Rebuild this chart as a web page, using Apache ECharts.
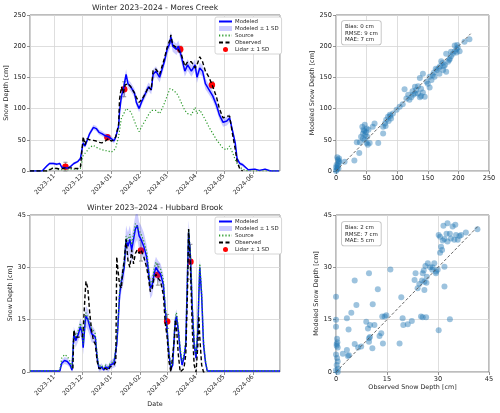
<!DOCTYPE html>
<html>
<head>
<meta charset="utf-8">
<title>Snow depth</title>
<script src="https://cdn.jsdelivr.net/npm/echarts@6/dist/echarts.min.js"></script>
</head>
<body style="margin:0">
<div id="main" style="width:500px;height:413px;"></div>
<script>
// ---- Mores Creek time series ----
var moresDates = ['2023-10-06','2023-10-19','2023-10-24','2023-10-27','2023-10-31',
  '2023-11-04','2023-11-07','2023-11-09','2023-11-13','2023-11-16','2023-11-19','2023-11-22','2023-11-26','2023-11-29','2023-11-30',
  '2023-12-02','2023-12-04','2023-12-06','2023-12-09','2023-12-13','2023-12-16','2023-12-19','2023-12-22','2023-12-25','2023-12-29',
  '2024-01-01','2024-01-04','2024-01-06','2024-01-09','2024-01-10','2024-01-12','2024-01-14','2024-01-16','2024-01-17','2024-01-19','2024-01-22','2024-01-26','2024-01-28','2024-01-31',
  '2024-02-03','2024-02-07','2024-02-10','2024-02-13','2024-02-15','2024-02-18','2024-02-22','2024-02-24','2024-02-27',
  '2024-03-01','2024-03-04','2024-03-05','2024-03-07','2024-03-11','2024-03-13','2024-03-16','2024-03-20','2024-03-23','2024-03-27','2024-03-31',
  '2024-04-02','2024-04-05','2024-04-08','2024-04-11','2024-04-15','2024-04-19','2024-04-23','2024-04-26','2024-04-30',
  '2024-05-04','2024-05-07','2024-05-10','2024-05-13','2024-05-15','2024-05-18','2024-05-21','2024-05-24','2024-05-27',
  '2024-06-03','2024-06-08','2024-06-14','2024-06-20','2024-06-29'];
var moresModeled = [0,0,8,12,12,
  11,12,6,5,5,8,12,15,20,22,
  45,40,48,60,70,68,62,60,57,55,
  52,48,55,72,95,120,130,128,155,140,135,125,110,100,
  112,125,135,130,155,160,150,160,175,
  195,205,215,200,195,200,185,160,170,160,170,
  150,165,160,140,130,120,105,90,78,
  80,85,65,45,20,12,10,6,2,
  3,1,3,0,0];
var moresObserved = [0,0,0,2,5,
  4,3,3,5,5,5,4,4,5,5,
  55,42,52,50,49,48,46,45,47,52,
  48,50,55,75,115,135,125,138,140,140,135,125,118,110,
  115,125,135,130,162,163,155,165,180,
  198,210,218,202,198,195,188,168,175,175,165,
  170,183,175,160,150,135,118,100,85,
  88,88,60,35,15,3,0,null,null,
  null,null,null,null,null];
var moresSource = [0,0,0,3,5,
  3,2,1,2,2,3,3,3,4,5,
  25,28,32,38,41,38,36,34,33,32,
  30,33,38,55,65,85,90,92,100,103,95,80,72,63,
  72,82,90,97,100,97,92,98,108,
  120,132,135,130,125,120,110,97,92,90,102,
  92,98,90,82,70,60,50,44,36,
  34,40,30,18,12,6,3,1,0,
  0,0,0,0,0];
var moresSd = [0,0,2,2,2,
  2,2,2,2,2,2,2,2,2,2,
  3,3,3,4,4,4,4,4,4,4,
  4,4,4,5,6,7,7,7,8,7,7,7,6,6,
  6,7,7,7,8,8,8,8,8,
  9,9,9,9,9,9,9,9,9,9,9,
  9,9,9,9,8,8,8,7,7,
  7,7,6,5,4,3,3,2,1,
  1,1,1,0,0];
var moresLidarDates = ['2023-11-13','2023-12-28','2024-01-15','2024-03-15','2024-04-18'];
var moresLidar = [7, 54, 131, 195, 138];
var moresLidarSd = [7, 3, 12, 5, 5];

// ---- Hubbard Brook time series ----
var hubbardDates = ['2023-10-06','2023-10-31','2023-11-07','2023-11-09','2023-11-12','2023-11-15','2023-11-18','2023-11-20','2023-11-21',
  '2023-11-22','2023-11-24','2023-11-27','2023-11-29','2023-12-01','2023-12-02','2023-12-04','2023-12-05','2023-12-07','2023-12-09',
  '2023-12-11','2023-12-13','2023-12-15','2023-12-17','2023-12-19','2023-12-22','2023-12-24','2023-12-26','2023-12-29','2023-12-31',
  '2024-01-04','2024-01-06','2024-01-07','2024-01-08','2024-01-10','2024-01-12','2024-01-13','2024-01-15','2024-01-17','2024-01-19',
  '2024-01-21','2024-01-23','2024-01-25','2024-01-27','2024-01-29','2024-01-31','2024-02-02','2024-02-05','2024-02-08','2024-02-10',
  '2024-02-12','2024-02-14','2024-02-16','2024-02-18','2024-02-20','2024-02-23','2024-02-26','2024-02-28','2024-03-01','2024-03-03',
  '2024-03-05','2024-03-07','2024-03-09','2024-03-10','2024-03-11','2024-03-13','2024-03-15','2024-03-17','2024-03-19','2024-03-21',
  '2024-03-23','2024-03-24','2024-03-26','2024-03-28','2024-03-30','2024-04-01','2024-04-03','2024-04-04','2024-04-05','2024-04-07',
  '2024-04-09','2024-04-11','2024-04-13','2024-06-30'];
var hubbardModeled = [0.3,0.3,0.3,2.5,3.3,3,2,0.5,0.3,
  11,9,11,13,11,7,14,16,15,13,
  11,10.5,10,4,1,1.5,0.5,1.5,1,2,
  2.5,3,8,12,22,26,27,30,38,36,
  38,35,38,41,42,39,38,36,33,29,
  24,25,28,30,29,28,25,18,12,5,
  1,2,12,15,16,12,6,2,4,8,
  30,40,33,18,8,4,12,22,30,22,
  8,3,0.3,0.3];
var hubbardObserved = [null,null,null,null,null,null,null,null,1,
  12,10,10,10,10,12,22,26,24,17,
  12,9,8,3,1,1,0.5,1,0.5,1.5,
  2,3,33,30,25,24,28,32,38,32,
  30,35,31,34,35,34,35,33,30,27,
  23,24,27,28,27,26,22,14,10,3,
  0,0,10,15,13,5,0,0,1,5,
  25,41,30,12,2,0,8,16,10,2,
  0,0,null,null];
var hubbardSource = [0.3,0.3,0.5,4,5,4.5,3,1,0.5,
  12,10,12,14,12,8,15,17,16.5,14,
  12.5,12,11,5,1.5,2,1,2,1.5,2.5,
  3,3.5,9,13,23,27,28,31,39,37.5,
  39.5,36.5,39.5,42.5,43,40.5,39.5,37.5,34.5,30,
  25,26,29.5,31.5,30.5,29.5,26.5,19,13,6,
  1.5,2.5,13,16,17,13,7,3,5,9,
  31,41,34,19,9,5,13,23,31,23,
  9,3.5,0.3,0.3];
var hubbardSd = [0.2,0.2,0.2,0.8,1,1,0.8,0.3,0.2,
  2,2,2,2.5,2.5,2,3,3,3,2.5,
  2.5,2.5,2,1.5,1,1,0.8,1,1,1.2,
  1.5,1.5,2,2.5,3,3,3,3.5,4,4,
  4,4,4,4,4,4,4,4,3.5,3.5,
  3,3,3,3,3,3,3,2.5,2,1.5,
  1,1,2,2,2,2,1.5,1,1,1.5,
  3,3.5,3.5,2.5,2,1.5,2,2.5,3,2.5,
  2,1,0.2,0.2];
var hubbardLidarDates = ['2024-02-02','2024-02-20','2024-03-01','2024-03-26'];
var hubbardLidar = [34.8, 27.9, 14.5, 31.6];
var hubbardLidarSd = [3, 3, 2, 5];

// ---- scatter: [observed, modeled] ----
var moresPairs = [[0,0],[1,2],[2,5],[3,8],[1,10],[4,12],[5,14],[5,16],[3,18],[5,20],[2,22],[0,6],[4,4],
  [14,15],[30,17],[38,29],[39,46],[34,46],
  [43,71],[47,74],[50,68],[44,60],[41,55],[47,50],[50,45],[52,42],[55,45],[60,71],[63,76],[53,66],[45,66],[48,58],[46,64],[49,62],[51,55],[44,52],
  [69,45],[77,60],
  [80,76],[82,82],[85,87],[88,90],[90,84],[93,92],[99,98],[81,72],[77,71],[86,80],[89,88],
  [104,103],[109,107],[112,131],[118,122],[120,114],[123,118],[126,122],[129,124],[131,130],[134,124],[137,118],[139,120],[142,126],[145,119],[139,132],[134,136],[129,135],
  [153,134],[150,140],[148,143],[156,146],[158,154],[161,151],[153,151],[142,156],[137,149],[165,162],[168,165],[170,168],[174,173],[178,170],[175,162],[169,156],[180,159],
  [183,175],[186,180],[188,184],[191,188],[194,192],[197,195],[199,198],[202,192],[197,190],[188,191],[194,201],[198,202],[210,207],[218,211],[180,188],
  [115,116],[125,128],[160,158],[163,164],[172,176],[176,168],[185,178]];
var hubbardPairs = [[0,21.6],[0,15],[0,13],[0.3,9.5],[0.2,8],[0.5,7],[0,5],[0.3,4],[0.5,3],[0.2,2],[0.6,1],[0,0.5],[0.5,0],[0.2,7.5],[0.4,8.5],
  [2,5.2],[3.2,6.3],[3.5,4.6],[3.8,4.8],[5.5,8],[5.5,26.2],[6,19.2],[4.5,17],[3.2,15.4],[3.7,12.2],[6.5,7],[7.4,7.3],[8.9,14.4],[9.7,28.3],[9.4,12.5],
  [10,13.5],[10,10],[9.7,9.7],[9.7,8.7],[10.7,6.8],[10.8,19.4],[11.3,13.5],[12.3,23.7],[12.8,10.3],[13.6,15.9],[14.3,15.9],[14.8,16.3],[13.8,8.2],[13.3,11.1],
  [16,29.4],[18.7,8.2],[19.2,21.4],[19.6,15.4],[19.8,13.5],[21.1,13.7],[22.3,14.6],[23.1,26.4],[23.4,28.3],[24,24],[24.5,25.2],[25,15.9],[25.5,15.7],[26.5,15.7],
  [25.3,26.2],[26,25.9],[25.5,28.3],[25.8,29.1],[26.3,30.4],[27,31.2],[27.7,30],[28.3,29.3],[28.4,30],[28.9,31.2],[29.4,28.8],[29.9,29.3],[30.2,12],[31.9,24.5],
  [31.9,30.2],[30.6,34.2],[31.2,35],[30.9,35.9],[30.6,38.8],[30.2,39.3],[31.4,37.7],[31.9,38.1],[32.5,39.6],[32.8,37.4],[33.5,39.6],[33.8,38.3],[33.5,15.1],
  [31.6,41.9],[32.8,42.6],[34.3,41.7],[35.1,42.2],[35.3,39.3],[36.3,39],[36.8,39.3],[35.8,37.9],[34.8,37.9],[38.2,40],[41.6,40.9],[29.4,28.3],[26.7,27.3],[26,23.5],[26.6,25.6]];
var moresOneToOne = [[0,0],[220,220]];
var hubbardOneToOne = [[0,0],[42,42]];
var moresStats = ['Bias: 0 cm','RMSE: 9 cm','MAE: 7 cm'];
var hubbardStats = ['Bias: 2 cm','RMSE: 7 cm','MAE: 5 cm'];

var FONT = 'DejaVu Sans';
var TXT = '#262626';
var GRIDC = '#d6d6d6';
var FRAME = '#7a7a7a';
var BAND = 'rgba(40,40,255,0.24)';

var myChart = echarts.init(document.getElementById('main'));

function zip(dates, vals) {
  return dates.map(function (d, i) { return [d, vals[i]]; });
}
function monthFmt(v) {
  var d = new Date(v);
  return d.getFullYear() + '-' + ('0' + (d.getMonth() + 1)).slice(-2);
}
function timeAxis(g, name) {
  return {
    type: 'time', gridIndex: g,
    min: +new Date(2023, 9, 6), max: +new Date(2024, 5, 30),
    splitNumber: 9,
    name: name || '', nameLocation: 'middle', nameGap: 29,
    nameTextStyle: { fontFamily: FONT, fontSize: 6.4, color: TXT },
    axisLine: { show: false },
    axisTick: { show: true, length: 3, lineStyle: { color: FRAME, width: 0.8 } },
    axisLabel: { rotate: 45, fontSize: 6.3, fontFamily: FONT, color: TXT, margin: 4, formatter: monthFmt, hideOverlap: false },
    splitLine: { show: true, lineStyle: { color: GRIDC, width: 0.8 } }
  };
}
function valAxis(g, max, interval, name, gap) {
  return {
    type: 'value', gridIndex: g, min: 0, max: max, interval: interval,
    name: name || '', nameLocation: 'middle', nameGap: gap,
    nameTextStyle: { fontFamily: FONT, fontSize: 6.4, color: TXT },
    axisLine: { show: false },
    axisTick: { show: true, length: 3, lineStyle: { color: FRAME, width: 0.8 } },
    axisLabel: { fontSize: 6.6, fontFamily: FONT, color: TXT, margin: 4 },
    splitLine: { show: true, lineStyle: { color: GRIDC, width: 0.8 } }
  };
}

function siteSeries(ax, key, dates, modeled, observed, source, sd, lDates, lidar, lSd) {
  var lower = modeled.map(function (m, i) { return Math.max(0, m - sd[i]); });
  var width = modeled.map(function (m, i) { return m + sd[i] - lower[i]; });
  var base = { xAxisIndex: ax, yAxisIndex: ax, symbol: 'none', animation: false };
  function s(o) { return Object.assign({}, base, o); }
  return [
    s({ type: 'line', name: 'sdLow' + key, stack: 'sd' + key, data: zip(dates, lower),
        lineStyle: { opacity: 0 } }),
    s({ type: 'line', name: 'Modeled ± 1 SD', stack: 'sd' + key, data: zip(dates, width),
        color: BAND, lineStyle: { opacity: 0 }, areaStyle: { color: BAND, opacity: 1 } }),
    s({ type: 'line', name: 'Modeled', data: zip(dates, modeled), color: '#0000ff',
        lineStyle: { color: '#0000ff', width: 1.5 } }),
    s({ type: 'line', name: 'Source', data: zip(dates, source), color: '#2a9a2a',
        lineStyle: { color: '#2a9a2a', width: 1.2, type: [1.2, 2] } }),
    s({ type: 'line', name: 'Observed', data: zip(dates, observed), color: '#000',
        lineStyle: { color: '#000', width: 1.4, type: [4, 2.5] } }),
    {
      type: 'custom', xAxisIndex: ax, yAxisIndex: ax, animation: false,
      data: lDates.map(function (d, i) { return [d, lidar[i], lSd[i]]; }),
      encode: { x: 0, y: 1 },
      renderItem: function (params, api) {
        var x = api.value(0), v = api.value(1), e = api.value(2);
        var lo = api.coord([x, v - e]), hi = api.coord([x, v + e]);
        var st = { stroke: '#8c8c8c', lineWidth: 1 };
        return { type: 'group', children: [
          { type: 'line', shape: { x1: lo[0], y1: lo[1], x2: hi[0], y2: hi[1] }, style: st },
          { type: 'line', shape: { x1: lo[0] - 2, y1: lo[1], x2: lo[0] + 2, y2: lo[1] }, style: st },
          { type: 'line', shape: { x1: hi[0] - 2, y1: hi[1], x2: hi[0] + 2, y2: hi[1] }, style: st }
        ] };
      }
    },
    { type: 'scatter', name: 'Lidar ± 1 SD', xAxisIndex: ax, yAxisIndex: ax, animation: false,
      symbolSize: 6.5, color: '#ff0000', itemStyle: { color: '#ff0000', opacity: 1 },
      data: zip(lDates, lidar) }
  ];
}

function scatterSeries(ax, pairs, line) {
  return [
    { type: 'scatter', xAxisIndex: ax, yAxisIndex: ax, animation: false, symbolSize: 6,
      itemStyle: { color: 'rgba(31,119,180,0.55)' }, data: pairs },
    { type: 'line', xAxisIndex: ax, yAxisIndex: ax, animation: false, symbol: 'none', data: line,
      lineStyle: { color: '#555', width: 0.9, type: [3, 2] } }
  ];
}

// line entries: hide the marker that ECharts puts in the middle of a line legend icon
var noMarker = { opacity: 0 };
var legendItems = [
  { name: 'Modeled', itemStyle: noMarker },
  { name: 'Modeled ± 1 SD', icon: 'rect', itemStyle: { color: BAND } },
  { name: 'Source', itemStyle: noMarker },
  { name: 'Observed', itemStyle: noMarker },
  { name: 'Lidar ± 1 SD', icon: 'circle', itemStyle: { color: '#ff0000' } }
];
function legendAt(top) {
  return {
    orient: 'vertical', left: 215, top: top, data: legendItems, selectedMode: false,
    itemWidth: 13, itemHeight: 5, itemGap: 2, padding: [2, 3, 2, 3],
    textStyle: { fontSize: 5.4, fontFamily: FONT, color: TXT, padding: [0, 0, 0, -2] },
    backgroundColor: '#fff', borderColor: '#cccccc', borderWidth: 0.8, borderRadius: 2
  };
}
function titleText(x, y, text) {
  return { type: 'text', x: x, y: y, silent: true,
    style: { text: text, textAlign: 'center', textVerticalAlign: 'middle', fontSize: 7.7, fontFamily: FONT, fill: TXT } };
}
function statsBox(x, y, lines) {
  return { type: 'text', x: x, y: y, silent: true, z: 10,
    style: { text: lines.join('\n'), fontSize: 5.5, fontFamily: FONT, fill: TXT, lineHeight: 6.8,
      backgroundColor: '#fff', borderColor: '#bbbbbb', borderWidth: 0.8, borderRadius: 2, padding: [2, 3, 1, 3] } };
}

var option = {
  animation: false,
  grid: [
    { left: 30, top: 15, width: 250, height: 156, show: true, borderColor: FRAME, borderWidth: 1 },
    { left: 336, top: 15, width: 153, height: 156, show: true, borderColor: FRAME, borderWidth: 1 },
    { left: 30, top: 215, width: 250, height: 157, show: true, borderColor: FRAME, borderWidth: 1 },
    { left: 336, top: 215, width: 153, height: 157, show: true, borderColor: FRAME, borderWidth: 1 }
  ],
  xAxis: [
    timeAxis(0),
    valAxis(1, 250, 50, '', 10),
    timeAxis(2, 'Date'),
    valAxis(3, 45, 15, 'Observed Snow Depth [cm]', 12)
  ],
  yAxis: [
    valAxis(0, 250, 50, 'Snow Depth [cm]', 19),
    valAxis(1, 250, 50, 'Modeled Snow Depth [cm]', 20),
    valAxis(2, 45, 15, 'Snow Depth [cm]', 15),
    valAxis(3, 45, 15, 'Modeled Snow Depth [cm]', 15)
  ],
  legend: [legendAt(17), legendAt(217)],
  graphic: [
    titleText(155, 8, 'Winter 2023–2024 - Mores Creek'),
    titleText(155, 208, 'Winter 2023–2024 - Hubbard Brook'),
    statsBox(342, 21, moresStats),
    statsBox(342, 222, hubbardStats)
  ],
  series: [].concat(
    siteSeries(0, 'M', moresDates, moresModeled, moresObserved, moresSource, moresSd, moresLidarDates, moresLidar, moresLidarSd),
    scatterSeries(1, moresPairs, moresOneToOne),
    siteSeries(2, 'H', hubbardDates, hubbardModeled, hubbardObserved, hubbardSource, hubbardSd, hubbardLidarDates, hubbardLidar, hubbardLidarSd),
    scatterSeries(3, hubbardPairs, hubbardOneToOne)
  )
};
myChart.setOption(option);
</script>
</body>
</html>
